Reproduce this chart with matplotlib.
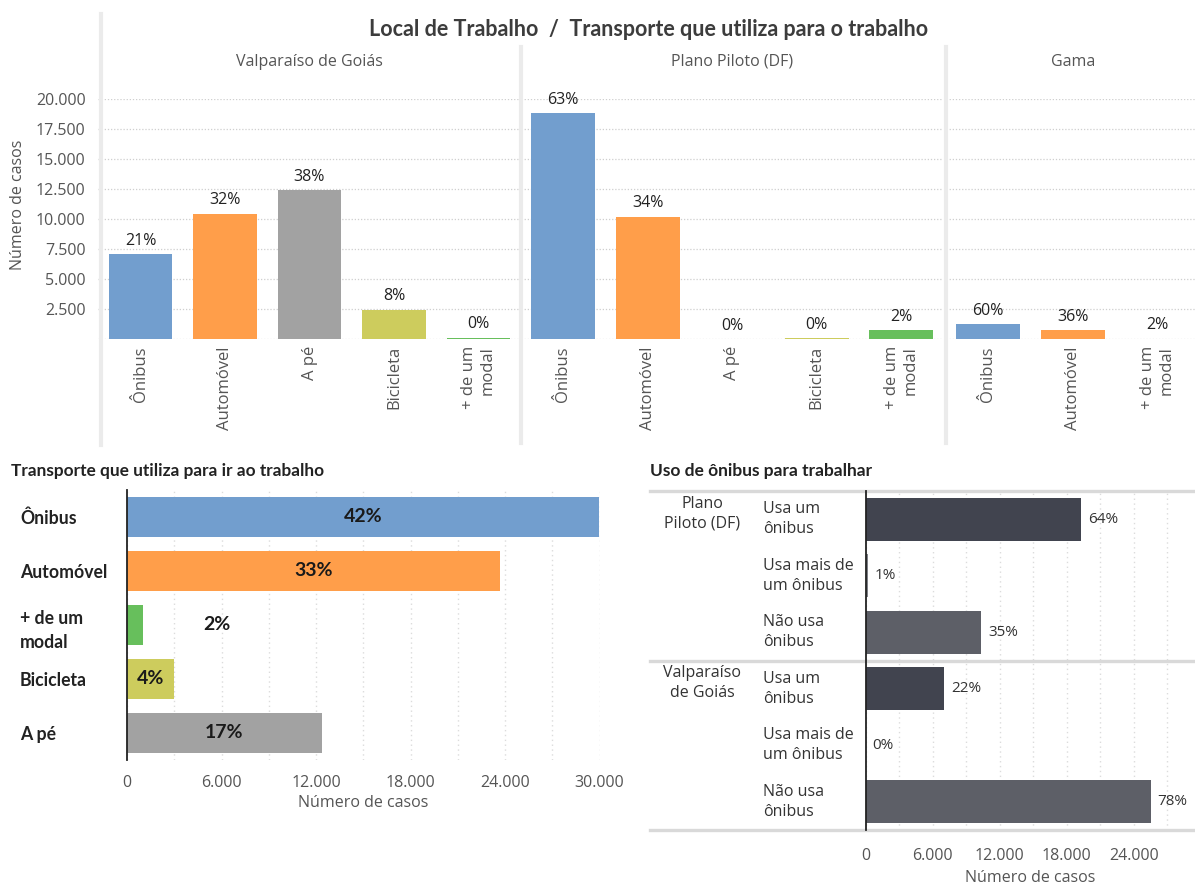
import matplotlib
matplotlib.use('Agg')
import matplotlib.pyplot as plt
from matplotlib.ticker import FuncFormatter, MultipleLocator
from matplotlib.lines import Line2D
from matplotlib.transforms import blended_transform_factory

# --- data ---
top_title = 'Local de Trabalho  /  Transporte que utiliza para o trabalho'
panel_names = ['Valparaíso de Goiás', 'Plano Piloto (DF)', 'Gama']

valp_modes = ['Ônibus', 'Automóvel', 'A pé', 'Bicicleta', '+ de um\nmodal']
valp_casos = [7075, 10460, 12400, 2440, 110]
valp_pct = ['21%', '32%', '38%', '8%', '0%']

plano_modes = ['Ônibus', 'Automóvel', 'A pé', 'Bicicleta', '+ de um\nmodal']
plano_casos = [18810, 10210, 0, 100, 750]
plano_pct = ['63%', '34%', '0%', '0%', '2%']

gama_modes = ['Ônibus', 'Automóvel', '+ de um\nmodal']
gama_casos = [1250, 750, 40]
gama_pct = ['60%', '36%', '2%']

total_modes = ['Ônibus', 'Automóvel', '+ de um\nmodal', 'Bicicleta', 'A pé']
total_casos = [29950, 23680, 1030, 2960, 12380]
total_pct = ['42%', '33%', '2%', '4%', '17%']

bus_places = ['Plano\nPiloto (DF)', 'Valparaíso\nde Goiás']
bus_use = ['Usa um\nônibus', 'Usa mais de\num ônibus', 'Não usa\nônibus']
bus_plano = [19250, 200, 10350]
bus_valp = [7010, 0, 25520]
bus_plano_pct = ['64%', '1%', '35%']
bus_valp_pct = ['22%', '0%', '78%']

mode_color = {'Ônibus': '#729ece', 'Automóvel': '#ff9e4a', 'A pé': '#a2a2a2',
              'Bicicleta': '#cdcc5d', '+ de um\nmodal': '#67bf5c'}
use_color = {'Usa um\nônibus': '#41444f', 'Usa mais de\num ônibus': '#7d7f86',
             'Não usa\nônibus': '#5d5f67'}

REG = ['Open Sans', 'DejaVu Sans']
BOLD = ['Lato', 'DejaVu Sans']
GRAY = '#555555'
DARK = '#333333'
GRID = '#cfcfcf'

W, H = 1195, 886
def fx(px):
    return px / W
def fy(py):
    return 1 - py / H

plt.rcParams['font.family'] = REG
fig = plt.figure(figsize=(W / 100, H / 100), dpi=100)

thous = FuncFormatter(lambda v, p: '' if v == 0 else f'{int(v):,}'.replace(',', '.'))
thous0 = FuncFormatter(lambda v, p: f'{int(v):,}'.replace(',', '.'))

# ---------------- top: three panels ----------------
slot = 84.5
top_y0, top_y1 = 99, 339.3
panels = [(98.25, valp_modes, valp_casos, valp_pct),
          (521.0, plano_modes, plano_casos, plano_pct),
          (946.0, gama_modes, gama_casos, gama_pct)]
for i, (left_px, modes, casos, pct) in enumerate(panels):
    right_px = min(left_px + slot * len(modes), W)
    ax = fig.add_axes([fx(left_px), fy(top_y1), fx(right_px - left_px),
                       (top_y1 - top_y0) / H])
    x = list(range(len(modes)))
    ax.bar(x, casos, width=0.757, color=[mode_color[m] for m in modes])
    ax.set_xlim(-0.5, -0.5 + (right_px - left_px) / slot)
    ax.set_ylim(0, 20000)
    ax.set_yticks(range(0, 20001, 2500))
    ax.yaxis.set_major_formatter(thous)
    ax.grid(axis='y', color=GRID, linestyle=(0, (1, 1.5)), linewidth=0.9)
    ax.set_axisbelow(True)
    for s in ax.spines.values():
        s.set_visible(False)
    ax.set_xticks(x)
    ax.set_xticklabels(modes, rotation=90, fontsize=12, color=GRAY)
    for lab in ax.get_xticklabels():
        lab.set_multialignment('right')
    ax.tick_params(axis='x', length=0, pad=5)
    ax.tick_params(axis='y', length=0, pad=9, labelsize=11.5, labelcolor=GRAY)
    if i > 0:
        ax.tick_params(axis='y', labelleft=False)
    for xi, v, t in zip(x, casos, pct):
        ax.annotate(t, (xi, v), xytext=(0, 4), textcoords='offset points',
                    ha='center', va='bottom', fontsize=11.5, color='#222222')
    # panel name centred over the panel, at a fixed figure height
    ax.text((len(modes) - 1) / 2, fy(62), panel_names[i], ha='center', va='center',
            fontsize=11.5, color=GRAY,
            transform=blended_transform_factory(ax.transData, fig.transFigure))

fig.text(fx(18), fy(205), 'Número de casos', rotation=90, ha='center', va='center',
         fontsize=11.5, color=GRAY)

fig.text(fx(649), fy(29), top_title, ha='center', va='center', fontsize=15.5,
         fontweight='bold', family=BOLD, color='#3c3c3c')

for xpx, y0, y1 in [(101, 14, 445), (520.5, 47, 443), (945.5, 47, 443)]:
    fig.add_artist(Line2D([fx(xpx)] * 2, [fy(y0), fy(y1)], color='#ebebeb',
                          linewidth=3, transform=fig.transFigure))

# ---------------- bottom left ----------------
axl = fig.add_axes([fx(127), fy(760), fx(599.5 - 127), 270 / H])
yl = list(range(len(total_modes)))
axl.barh(yl, total_casos, height=0.75, color=[mode_color[m] for m in total_modes])
axl.set_ylim(len(total_modes) - 0.5, -0.5)
axl.set_xlim(0, 30000)
axl.set_xticks(range(0, 30001, 6000))
axl.xaxis.set_minor_locator(MultipleLocator(3000))
axl.xaxis.set_major_formatter(thous0)
axl.grid(axis='x', which='both', color='#dcdcdc', linestyle=(0, (1, 2.5)), linewidth=1)
axl.set_axisbelow(True)
for s in ['top', 'right', 'bottom']:
    axl.spines[s].set_visible(False)
axl.spines['left'].set_color('#222222')
axl.spines['left'].set_linewidth(1.3)
axl.set_yticks(yl)
axl.set_yticklabels(total_modes, fontsize=12.7, fontweight='bold', family=BOLD,
                    color='#222222', ha='left', linespacing=1.5)
axl.tick_params(axis='y', length=0, pad=(127 - 20) * 0.72)
axl.tick_params(axis='x', which='both', length=0, pad=11, labelsize=11.5,
                labelcolor=GRAY)
axl.set_xlabel('Número de casos', fontsize=11.5, color=GRAY, labelpad=3)
for yi, v, t in zip(yl, total_casos, total_pct):
    xpos = v / 2 if v > 2000 else 5700
    axl.text(xpos, yi, t, ha='center', va='center', fontsize=14, fontweight='bold',
             family=BOLD, color='#1a1a1a')
fig.text(fx(11), fy(471), 'Transporte que utiliza para ir ao trabalho', ha='left',
         va='center', fontsize=12.4, fontweight='bold', family=BOLD, color='#222222')

# ---------------- bottom right ----------------
axr = fig.add_axes([fx(865.7), fy(830), fx(W - 865.7), (830 - 491) / H])
rows = list(range(6))
vals = bus_plano + bus_valp
labs = bus_plano_pct + bus_valp_pct
uses = bus_use + bus_use
axr.barh(rows, vals, height=0.754, color=[use_color[u] for u in uses])
axr.set_ylim(5.5, -0.5)
axr.set_xlim(0, 29480)
axr.set_xticks(range(0, 24001, 6000))
axr.xaxis.set_minor_locator(MultipleLocator(3000))
axr.xaxis.set_major_formatter(thous0)
axr.grid(axis='x', which='both', color='#dcdcdc', linestyle=(0, (1, 2.5)), linewidth=1)
axr.set_axisbelow(True)
for s in ['top', 'right', 'bottom']:
    axr.spines[s].set_visible(False)
axr.spines['left'].set_color('#222222')
axr.spines['left'].set_linewidth(1.3)
axr.set_yticks([])
axr.tick_params(axis='x', which='both', length=0, pad=13, labelsize=11.5,
                labelcolor=GRAY)
axr.set_xlabel('Número de casos', fontsize=11.5, color=GRAY, labelpad=4)
for r, v, t in zip(rows, vals, labs):
    axr.annotate(t, (v, r), xytext=(5, 0), textcoords='offset points', ha='left',
                 va='center', fontsize=11, color=DARK)
tr = blended_transform_factory(fig.transFigure, axr.transData)
for r, u in zip(rows, uses):
    axr.text(fx(763), r, u, ha='left', va='center', fontsize=11.5, color=DARK,
             linespacing=1.35, transform=tr)
for g, place in enumerate(bus_places):
    axr.text(fx(702), g * 3 - 0.42, place, ha='center', va='top', fontsize=11.5,
             color=DARK, linespacing=1.35, transform=tr)
for ysep in [-0.5, 2.5, 5.5]:
    axr.add_line(Line2D([fx(650), 1], [ysep, ysep], color='#d9d9d9', linewidth=2.4,
                        transform=tr, clip_on=False))
fig.text(fx(650), fy(471), 'Uso de ônibus para trabalhar', ha='left', va='center',
         fontsize=12.5, fontweight='bold', family=BOLD, color='#222222')

fig.savefig('out.png', dpi=100)
